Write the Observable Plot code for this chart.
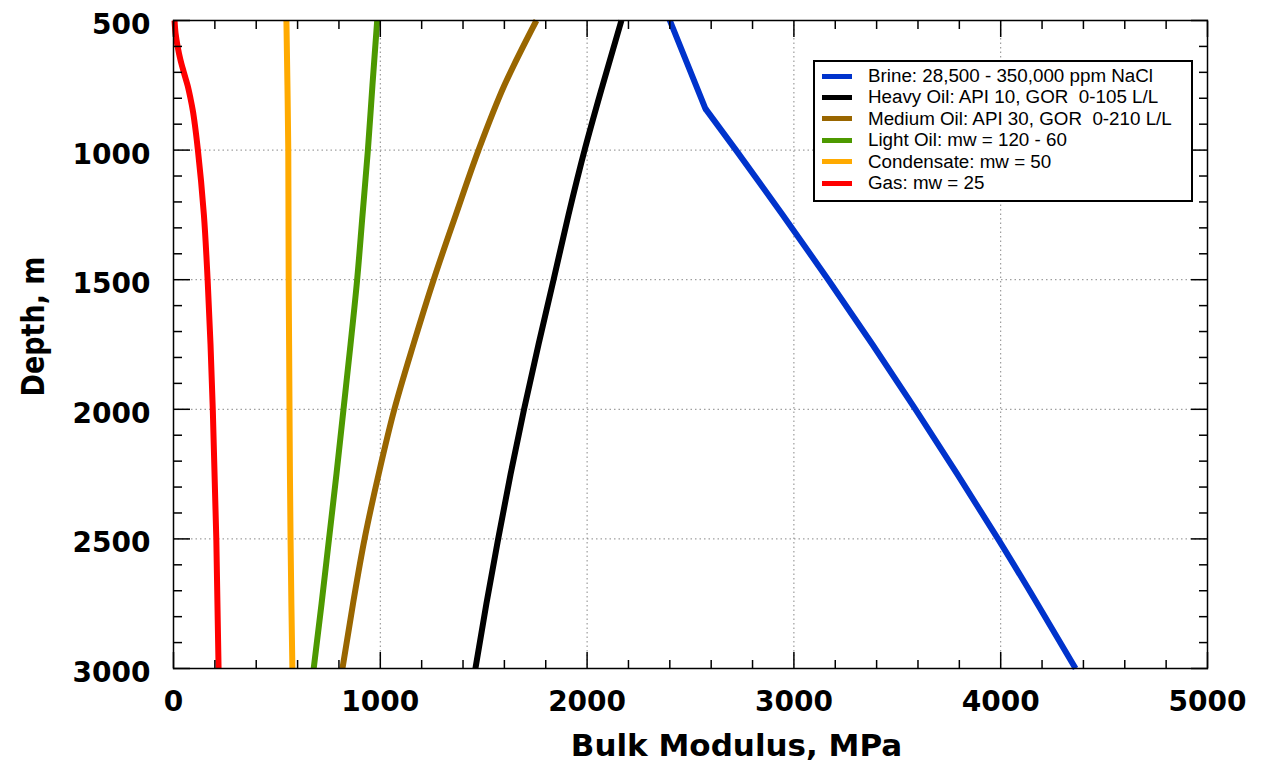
<!DOCTYPE html>
<html><head><meta charset="utf-8">
<script src="https://cdn.jsdelivr.net/npm/d3@7"></script>
<script src="https://cdn.jsdelivr.net/npm/@observablehq/plot@0.6"></script>
<style>
body{margin:0;background:#fff;}
#wrap{position:relative;width:1266px;height:767px;}
#legend{position:absolute;left:813px;top:60px;width:376px;height:138px;border:2px solid #000;background:#fff;font-family:"Liberation Sans",Arial,sans-serif;font-size:18.8px;color:#000;}
.row{position:absolute;left:7px;height:20px;display:flex;align-items:center;white-space:nowrap;}
.sw{width:30px;height:5px;margin-right:16px;flex:none;}
</style></head><body><div id="wrap"></div>
<script>
// ---- data ----
const seriesNames = [
  "Brine: 28,500 - 350,000 ppm NaCl",
  "Heavy Oil: API 10, GOR  0-105 L/L",
  "Medium Oil: API 30, GOR  0-210 L/L",
  "Light Oil: mw = 120 - 60",
  "Condensate: mw = 50",
  "Gas: mw = 25"
];
const seriesColors = ["#0033cc", "#000000", "#996600", "#4d9900", "#ffaa00", "#ff0000"];

// brine has a sharp bend at 840 m
const brineBendDepth = 840;
const brineDepth = [500, 840, 1000, 1250, 1500, 1750, 2000, 2250, 2500, 2750, 3000];
const brineK     = [2400, 2572, 2720, 2946, 3166, 3380, 3588, 3790, 3987, 4177, 4362];

const oilDepth = [500, 750, 1000, 1250, 1500, 1750, 2000, 2250, 2500, 2750, 3000];
const heavyK   = [2166, 2075, 1988, 1910, 1838, 1765, 1695, 1630, 1570, 1513, 1460];
const mediumK  = [1755, 1600, 1475, 1365, 1258, 1160, 1068, 992, 924, 868, 817];
const lightK   = [985, 962, 940, 914, 888, 856, 822, 788, 752, 716, 678];
const condK    = [546, 551, 555, 556, 557, 559, 561, 563, 566, 570, 575];

const gasDepth = [500, 550, 600, 650, 700, 750, 800, 850, 900, 1000, 1250, 1500, 1750, 2000, 2500, 3000];
const gasK     = [5, 10, 20, 33, 50, 68, 82, 94, 103, 118, 147, 165, 179, 190, 207, 218];

const xMajor = [0, 1000, 2000, 3000, 4000, 5000];
const xMinor = [200, 400, 600, 800, 1200, 1400, 1600, 1800, 2200, 2400, 2600, 2800, 3200, 3400, 3600, 3800, 4200, 4400, 4600, 4800];
const xGrid  = [1000, 2000, 3000, 4000];
const yMajor = [500, 1000, 1500, 2000, 2500, 3000];
const yMinor = [600, 700, 800, 900, 1100, 1200, 1300, 1400, 1600, 1700, 1800, 1900, 2100, 2200, 2300, 2400, 2600, 2700, 2800, 2900];
const yGrid  = [1000, 1500, 2000, 2500];

const xTitle = "Bulk Modulus, MPa";
const yTitle = "Depth, m";

// ---- build tables ----
const rows = (name, depths, ks) => depths.map((d, i) => ({series: name, depth: d, k: ks[i]}));
const brine = rows(seriesNames[0], brineDepth, brineK);
const brineUpper = brine.filter(r => r.depth <= brineBendDepth);
const brineLower = brine.filter(r => r.depth >= brineBendDepth);
const smooth = [
  ...rows(seriesNames[1], oilDepth, heavyK),
  ...rows(seriesNames[2], oilDepth, mediumK),
  ...rows(seriesNames[3], oilDepth, lightK),
  ...rows(seriesNames[4], oilDepth, condK),
  ...rows(seriesNames[5], gasDepth, gasK)
];

const tickStroke = {stroke: "black", strokeWidth: 1.5};
const titleFont = "'DejaVu Sans', sans-serif";

const chart = Plot.plot({
  width: 1266,
  height: 767,
  marginLeft: 173,
  marginRight: 59,
  marginTop: 20,
  marginBottom: 99,
  style: {fontFamily: "'DejaVu Sans', sans-serif", fontSize: "28px", fontWeight: "bold", color: "black", background: "white", overflow: "visible"},
  x: {domain: [0, 5000], axis: null},
  y: {domain: [500, 3000], reverse: true, axis: null},
  color: {domain: seriesNames, range: seriesColors},
  marks: [
    Plot.gridX(xGrid, {stroke: "#888", strokeOpacity: 1, strokeWidth: 1, strokeDasharray: "1.5,3"}),
    Plot.gridY(yGrid, {stroke: "#888", strokeOpacity: 1, strokeWidth: 1, strokeDasharray: "1.5,3"}),
    Plot.line(smooth, {x: "k", y: "depth", z: "series", stroke: "series", strokeWidth: 6, curve: "monotone-y", strokeLinecap: "butt"}),
    Plot.line(brineUpper, {x: "k", y: "depth", stroke: "series", strokeWidth: 6, strokeLinecap: "round", clip: true}),
    Plot.line(brineLower, {x: "k", y: "depth", stroke: "series", strokeWidth: 6, curve: "monotone-y", strokeLinecap: "butt"}),
    Plot.frame({stroke: "black", strokeWidth: 1.5}),
    // ticks (inward)
    Plot.axisX(xMajor, {anchor: "bottom", tickSize: -16, fill: "none", label: null, ...tickStroke}),
    Plot.axisX(xMinor, {anchor: "bottom", tickSize: -8, fill: "none", label: null, ...tickStroke}),
    Plot.axisX(xMajor, {anchor: "top", tickSize: -16, fill: "none", label: null, ...tickStroke}),
    Plot.axisX(xMinor, {anchor: "top", tickSize: -8, fill: "none", label: null, ...tickStroke}),
    Plot.axisY(yMajor, {anchor: "left", tickSize: -17, fill: "none", label: null, ...tickStroke}),
    Plot.axisY(yMinor, {anchor: "left", tickSize: -9, fill: "none", label: null, ...tickStroke}),
    Plot.axisY(yMajor, {anchor: "right", tickSize: -17, fill: "none", label: null, ...tickStroke}),
    Plot.axisY(yMinor, {anchor: "right", tickSize: -9, fill: "none", label: null, ...tickStroke}),
    // tick labels
    Plot.axisX(xMajor, {anchor: "bottom", tickSize: 0, tickPadding: 23, label: null, tickFormat: d => String(d)}),
    Plot.axisY(yMajor, {anchor: "left", tickSize: 0, tickPadding: 23, dy: 4.5, label: null, tickFormat: d => String(d)}),
    // axis titles
    Plot.text([xTitle], {frameAnchor: "bottom", textAnchor: "middle", dx: 46, dy: 87, fontSize: 31, fontWeight: "bold", fontFamily: titleFont, fill: "black"}),
    Plot.text([yTitle], {frameAnchor: "left", textAnchor: "middle", dx: -140, dy: -18, rotate: -90, fontSize: 27, fontWeight: "bold", fontFamily: titleFont, fill: "black"})
  ]
});

const wrap = document.getElementById("wrap");
wrap.appendChild(chart);

// the reference draws its rotated title slightly widened across the page
for (const t of chart.querySelectorAll("text")) {
  if (t.textContent === yTitle) {
    const tr = t.getAttribute("transform") || "";
    if (tr.includes("rotate(-90)")) t.setAttribute("transform", tr.replace("rotate(-90)", "scale(1.2,1) rotate(-90)"));
  }
}

// legend
const legend = document.createElement("div");
legend.id = "legend";
seriesNames.forEach((name, i) => {
  const row = document.createElement("div");
  row.className = "row";
  row.style.top = (4 + i * 21.4) + "px";
  const sw = document.createElement("span");
  sw.className = "sw";
  sw.style.background = seriesColors[i];
  const label = document.createElement("span");
  label.textContent = name;
  label.style.whiteSpace = "pre";
  row.appendChild(sw);
  row.appendChild(label);
  legend.appendChild(row);
});
wrap.appendChild(legend);
</script>
</body></html>
